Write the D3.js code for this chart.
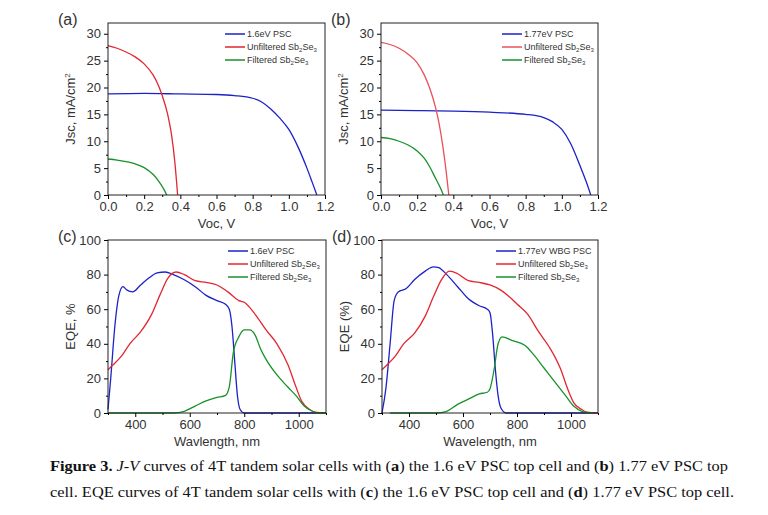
<!DOCTYPE html>
<html lang="en">
<head>
<meta charset="UTF-8">
<title>Figure 3</title>
<script src="https://d3js.org/d3.v7.min.js"></script>
<style>
  body { margin: 0; background: #fff; }
  text { font-family: Arial, "Liberation Sans", sans-serif; fill: #333; }
  .caption { font-family: "Liberation Serif", "DejaVu Serif", serif; font-size: 14px; fill: #111; }
</style>
</head>
<body>
<svg width="768" height="515"></svg>
<script>
// J-V data [V, mA/cm2]
const jvA_psc = [[0,18.8],[0.2,18.9],[0.4,18.8],[0.6,18.7],[0.7,18.5],[0.8,18],[0.85,17.3],[0.9,16],[0.95,14.3],[1.0,12.2],[1.05,9],[1.1,5],[1.13,2.3],[1.155,0]];
const jvA_unf = [[0,27.8],[0.05,27.3],[0.1,26.6],[0.15,25.7],[0.2,24.4],[0.25,22.3],[0.28,20.3],[0.3,18.5],[0.33,15],[0.35,11.5],[0.37,6],[0.385,0]];
const jvA_fil = [[0,6.7],[0.05,6.5],[0.1,6.2],[0.15,5.8],[0.2,5.1],[0.25,3.8],[0.28,2.6],[0.31,1],[0.325,0]];
const jvB_psc = [[0,15.8],[0.2,15.7],[0.4,15.6],[0.6,15.4],[0.8,15],[0.9,14.4],[0.95,13.6],[1.0,12.2],[1.05,9.5],[1.1,5.5],[1.14,2],[1.16,0]];
const jvB_unf = [[0,28.4],[0.05,28],[0.1,27.3],[0.15,26.2],[0.2,24.6],[0.24,22.3],[0.27,19.8],[0.3,16.5],[0.32,13.5],[0.34,9.5],[0.36,4.5],[0.375,0]];
const jvB_fil = [[0,10.7],[0.05,10.5],[0.1,10],[0.15,9.3],[0.2,8.2],[0.24,6.8],[0.27,5.2],[0.3,3.2],[0.33,1.2],[0.345,0]];

// EQE data [nm, %]
const eqeC_psc = [[300,2],[310,20],[325,50],[340,68],[355,73],[370,71],[390,70],[420,74],[450,78],[480,81],[510,81.5],[540,80],[580,77],[620,73],[660,68],[700,65],[730,63],[745,60],[755,50],[765,30],[775,10],[785,2],[800,0],[1100,0]];
const eqeC_unf = [[300,25],[320,28],[350,33],[380,40],[420,47],[460,57],[490,68],[520,78],[550,81.5],[580,80],[620,76.5],[660,75.5],[700,74],[740,70],[780,65],[800,64],[840,57],[880,48],[920,40],[960,28],[990,15],[1010,7],[1040,2],[1060,0.5],[1100,0]];
const eqeC_fil = [[300,0],[540,0],[580,1],[620,4],[660,7],[700,9],[730,10],[745,15],[760,35],[780,44],[800,48],[820,48],[840,45],[860,37],[880,31],[920,22],[960,15],[990,10],[1020,4],[1050,1],[1070,0],[1100,0]];
const eqeD_psc = [[300,0],[315,15],[330,40],[345,65],[360,70],[390,72],[420,77],[460,82],[490,84.5],[510,84],[540,80],[580,73],[620,66],[660,62],[690,60],[700,58],[710,45],[720,25],[730,10],[740,3],[760,0],[1100,0]];
const eqeD_unf = [[300,25],[320,28],[350,33],[380,40],[420,46],[460,56],[490,67],[520,77],[550,82],[580,80.5],[620,76.5],[660,75.5],[700,74],[740,71],[780,66],[800,63],[840,57],[880,47],[920,38],[960,26],[990,13],[1010,6],[1040,2],[1060,0.5],[1100,0]];
const eqeD_fil = [[330,0],[500,0],[540,1],[580,5],[620,8],[660,11],[690,12],[700,14],[715,25],[730,40],[745,44],[780,42],[830,39],[860,34],[900,26],[940,18],[980,10],[1010,4],[1040,1],[1080,0]];

const blue = "#1c22c8", red = "#e32630", green = "#17922a";

const svg = d3.select("svg");

function panel(o) {
  const x = d3.scaleLinear().domain(o.xd).range([o.x0, o.x1]);
  const y = d3.scaleLinear().domain(o.yd).range([o.y0, o.y1]);
  const g = svg.append("g");
  const line = d3.line().x(d => x(d[0])).y(d => y(d[1])).curve(d3.curveMonotoneX);
  o.series.forEach(s => {
    g.append("path").attr("d", line(s.data)).attr("fill", "none")
      .attr("stroke", s.color).attr("stroke-width", 1.3);
  });
  // frame
  g.append("rect").attr("x", o.x0).attr("y", o.y1).attr("width", o.x1 - o.x0)
    .attr("height", o.y0 - o.y1).attr("fill", "none").attr("stroke", "#222").attr("stroke-width", 1);
  // minor ticks
  g.append("g").attr("transform", `translate(0,${o.y0})`)
    .call(d3.axisBottom(x).tickValues(o.xminor).tickSize(2).tickFormat(""))
    .call(a => a.select(".domain").remove());
  g.append("g").attr("transform", `translate(${o.x0},0)`)
    .call(d3.axisLeft(y).tickValues(o.yminor).tickSize(2).tickFormat(""))
    .call(a => a.select(".domain").remove());
  const xa = g.append("g").attr("transform", `translate(0,${o.y0})`)
    .call(d3.axisBottom(x).tickValues(o.xt).tickSize(4).tickFormat(o.xf));
  const ya = g.append("g").attr("transform", `translate(${o.x0},0)`)
    .call(d3.axisLeft(y).tickValues(o.yt).tickSize(4).tickFormat(d3.format("d")));
  [xa, ya].forEach(a => {
    a.select(".domain").remove();
    a.selectAll("text").attr("font-size", 13).style("fill", "#333");
  });
  g.append("text").attr("x", (o.x0 + o.x1) / 2).attr("y", o.y0 + 33)
    .attr("text-anchor", "middle").attr("font-size", 13).text(o.xl);
  g.append("text").attr("transform", `translate(${o.x0 - 33},${(o.y0 + o.y1) / 2}) rotate(-90)`)
    .attr("text-anchor", "middle").attr("font-size", 13).html(o.yl);
  g.append("text").attr("x", o.x0 - 50).attr("y", o.y1 + 2).attr("font-size", 16).text(o.label);
  // legend
  o.series.forEach((s, i) => {
    const ly = o.y1 + 11 + i * 13;
    g.append("line").attr("x1", o.lx).attr("x2", o.lx + 20).attr("y1", ly).attr("y2", ly)
      .attr("stroke", s.color).attr("stroke-width", 1.5);
    g.append("text").attr("x", o.lx + 22).attr("y", ly + 3).attr("font-size", 9).html(s.name);
  });
}

const sb = 'Sb<tspan font-size="6" dy="2">2</tspan><tspan dy="-2">Se</tspan><tspan font-size="6" dy="2">3</tspan>';
const jvCommon = {
  xd: [0, 1.2], yd: [0, 32], y0: 195, y1: 23,
  xt: [0, 0.2, 0.4, 0.6, 0.8, 1.0, 1.2], xminor: d3.range(0.1, 1.2, 0.2),
  yt: [0, 5, 10, 15, 20, 25, 30], yminor: [2.5, 7.5, 12.5, 17.5, 22.5, 27.5],
  xf: d3.format(".1f"), xl: "Voc, V", yl: 'Jsc, mA/cm<tspan font-size="8" dy="-5">2</tspan>'
};
const eqeCommon = {
  xd: [300, 1100], yd: [0, 100], y0: 413, y1: 240,
  xt: [400, 600, 800, 1000], xminor: [300, 500, 700, 900, 1100],
  yt: [0, 20, 40, 60, 80, 100], yminor: [10, 30, 50, 70, 90],
  xf: d3.format("d"), xl: "Wavlength, nm"
};

panel(Object.assign({}, jvCommon, { x0: 108, x1: 325, label: "(a)", lx: 225,
  series: [{ data: jvA_psc, color: blue, name: "1.6eV PSC" },
           { data: jvA_unf, color: red, name: "Unfiltered " + sb },
           { data: jvA_fil, color: green, name: "Filtered " + sb }] }));
panel(Object.assign({}, jvCommon, { x0: 381, x1: 598, label: "(b)", lx: 502,
  series: [{ data: jvB_psc, color: blue, name: "1.77eV PSC" },
           { data: jvB_unf, color: "#e8505a", name: "Unfiltered " + sb },
           { data: jvB_fil, color: green, name: "Filtered " + sb }] }));
panel(Object.assign({}, eqeCommon, { x0: 108, x1: 326, label: "(c)", lx: 228, yl: "EQE, %",
  series: [{ data: eqeC_psc, color: blue, name: "1.6eV PSC" },
           { data: eqeC_unf, color: red, name: "Unfiltered " + sb },
           { data: eqeC_fil, color: green, name: "Filtered " + sb }] }));
panel(Object.assign({}, eqeCommon, { x0: 382, x1: 598, label: "(d)", lx: 496, yl: "EQE (%)", xl: "Wavelength, nm",
  series: [{ data: eqeD_psc, color: blue, name: "1.77eV WBG PSC" },
           { data: eqeD_unf, color: red, name: "Unfiltered " + sb },
           { data: eqeD_fil, color: green, name: "Filtered " + sb }] }));

// caption
svg.append("text").attr("class", "caption").attr("x", 50).attr("y", 471)
  .attr("textLength", 678).attr("lengthAdjust", "spacingAndGlyphs")
  .html('<tspan font-weight="bold">Figure 3.</tspan> <tspan font-style="italic">J-V</tspan> curves of 4T tandem solar cells with (<tspan font-weight="bold">a</tspan>) the 1.6 eV PSC top cell and (<tspan font-weight="bold">b</tspan>) 1.77 eV PSC top');
svg.append("text").attr("class", "caption").attr("x", 50).attr("y", 497)
  .attr("textLength", 684).attr("lengthAdjust", "spacingAndGlyphs")
  .html('cell. EQE curves of 4T tandem solar cells with (<tspan font-weight="bold">c</tspan>) the 1.6 eV PSC top cell and (<tspan font-weight="bold">d</tspan>) 1.77 eV PSC top cell.');
</script>
</body>
</html>
